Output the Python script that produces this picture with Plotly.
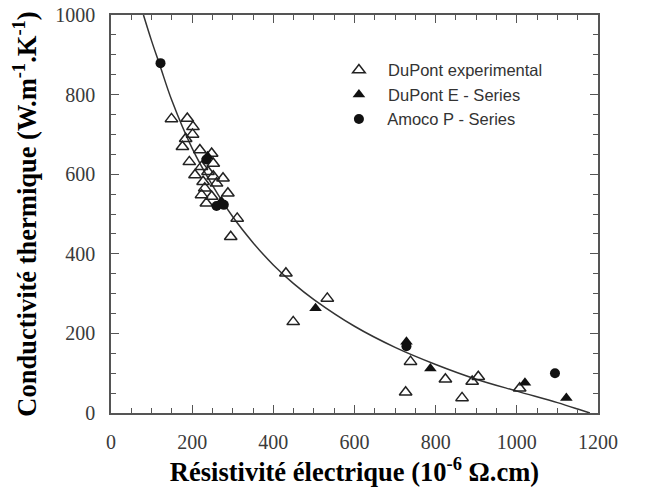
import plotly.graph_objects as go

# DuPont experimental (open triangles)
exp_x = [149, 188, 202, 201, 176, 184, 219, 248, 193, 252, 223, 207, 239, 252, 276, 227, 260, 231, 288, 223, 248, 235, 311, 295,
         431, 533, 449, 738, 726, 824, 865, 890, 905, 1007]
exp_y = [739, 740, 719, 700, 669, 689, 661, 652, 631, 627, 619, 598, 606, 595, 590, 581, 577, 565, 552, 548, 544, 527, 489, 443,
         351, 288, 229, 129, 52, 85, 38, 79, 91, 62]

# DuPont E - Series (filled triangles)
e_x = [238, 272, 504, 728, 787, 1020, 1122]
e_y = [645, 532, 263, 179, 112, 76, 38]

# Amoco P - Series (filled circles)
p_x = [122, 235, 260, 278, 728, 1094]
p_y = [879, 637, 520, 523, 168, 100]

# Fitted curve
fit_x = [80, 100, 120, 150, 200, 250, 300, 350, 400, 450, 500, 600, 700, 800, 900, 1000, 1100, 1150, 1180]
fit_y = [1000, 935, 875, 785, 665, 572, 493, 428, 372, 325, 285, 218, 165, 122, 85, 55, 26, 10, 0]

fig = go.Figure()
fig.add_trace(go.Scatter(x=fit_x, y=fit_y, mode="lines", line=dict(color="#333333", width=1.5, shape="spline"),
                         showlegend=False, hoverinfo="skip"))
fig.add_trace(go.Scatter(x=exp_x, y=exp_y, mode="markers", name="  DuPont experimental",
                         marker=dict(symbol="triangle-up-open", size=11, color="#222222", line=dict(width=1.5, color="#222222"))))
fig.add_trace(go.Scatter(x=e_x, y=e_y, mode="markers", name="  DuPont E - Series",
                         marker=dict(symbol="triangle-up", size=11, color="#111111")))
fig.add_trace(go.Scatter(x=p_x, y=p_y, mode="markers", name="  Amoco P - Series",
                         marker=dict(symbol="circle", size=10, color="#111111")))

axis_common = dict(
    showgrid=False, zeroline=False, showline=True, linecolor="#555555", linewidth=1.5,
    mirror="ticks", ticks="inside", ticklen=8, tickwidth=1.2, tickcolor="#555555",
    tickfont=dict(family="Liberation Serif", size=20, color="#3a3a3a"),
    minor=dict(ticks="inside", ticklen=5, tickwidth=1.2, tickcolor="#555555", dtick=50),
    automargin=False, ticklabelstandoff=10, ticklabeloverflow="allow",
)

fig.update_xaxes(range=[0, 1200], dtick=200, tick0=0, **axis_common,
                 title=dict(text="<b>Résistivité électrique (10<sup>-6</sup> Ω.cm)</b>",
                            font=dict(family="Liberation Serif", size=26.5, color="#000000"), standoff=4))
fig.update_yaxes(range=[0, 1000], dtick=200, tick0=0, **axis_common,
                 title=dict(text="<b>Conductivité thermique (W.m<sup>-1</sup>.K<sup>-1</sup>)</b>",
                            font=dict(family="Liberation Serif", size=26.5, color="#000000"), standoff=32))

fig.update_layout(
    width=646, height=492,
    margin=dict(l=103, r=56, t=7, b=87),
    plot_bgcolor="white", paper_bgcolor="white",
    legend=dict(x=0.468, y=0.905, xanchor="left", yanchor="top", bgcolor="rgba(0,0,0,0)",
                font=dict(family="Liberation Sans", size=16.5, color="#333333"), itemwidth=30,
                tracegroupgap=0),
)

fig.write_html("out.html")
